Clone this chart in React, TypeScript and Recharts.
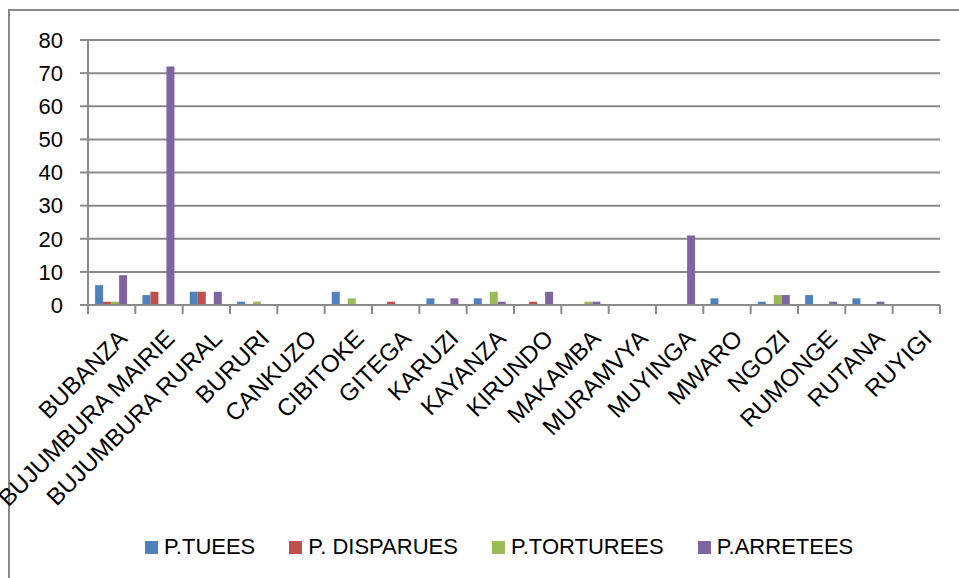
import React from 'react'
import { BarChart, Bar, XAxis, YAxis, CartesianGrid, Legend } from 'recharts'

const provinces = [
  'BUBANZA', 'BUJUMBURA MAIRIE', 'BUJUMBURA RURAL', 'BURURI', 'CANKUZO', 'CIBITOKE',
  'GITEGA', 'KARUZI', 'KAYANZA', 'KIRUNDO', 'MAKAMBA', 'MURAMVYA',
  'MUYINGA', 'MWARO', 'NGOZI', 'RUMONGE', 'RUTANA', 'RUYIGI',
]
const tuees = [6, 3, 4, 1, 0, 4, 0, 2, 2, 0, 0, 0, 0, 2, 1, 3, 2, 0]
const disparues = [1, 4, 4, 0, 0, 0, 1, 0, 0, 1, 0, 0, 0, 0, 0, 0, 0, 0]
const torturees = [1, 0, 0, 1, 0, 2, 0, 0, 4, 0, 1, 0, 0, 0, 3, 0, 0, 0]
const arretees = [9, 72, 4, 0, 0, 0, 0, 2, 1, 4, 1, 0, 21, 0, 3, 1, 1, 0]
const yTicks = [0, 10, 20, 30, 40, 50, 60, 70, 80]

const series = [
  { key: 'tuees', name: 'P.TUEES', color: '#4f81bd' },
  { key: 'disparues', name: 'P. DISPARUES', color: '#c0504d' },
  { key: 'torturees', name: 'P.TORTUREES', color: '#9bbb59' },
  { key: 'arretees', name: 'P.ARRETEES', color: '#8064a2' },
]

const data = provinces.map((p, i) => ({
  province: p,
  tuees: tuees[i],
  disparues: disparues[i],
  torturees: torturees[i],
  arretees: arretees[i],
}))

const W = 959
const H = 578
const FONT = '"Liberation Sans", Arial, sans-serif'
const AXIS = '#8a8a8a'
const PLOT_LEFT = 88
const PLOT_RIGHT = 940
const BAND = (PLOT_RIGHT - PLOT_LEFT) / provinces.length

// rotated label anchored at its end, like the spreadsheet original
function ProvinceTick(props: any) {
  const { x, y, payload, index } = props
  const left = x - BAND / 2
  const ax = x + 17
  const ay = y + 35
  return (
    <g>
      <line x1={left} y1={y} x2={left} y2={y + 9} stroke={AXIS} strokeWidth={2} />
      {index === provinces.length - 1 && (
        <line x1={x + BAND / 2} y1={y} x2={x + BAND / 2} y2={y + 9} stroke={AXIS} strokeWidth={2} />
      )}
      <text
        x={ax}
        y={ay}
        textAnchor="end"
        fontSize={24}
        fontFamily={FONT}
        fill="#000"
        transform={`rotate(-45, ${ax}, ${ay})`}
      >
        {payload.value}
      </text>
    </g>
  )
}

function LegendBox() {
  return (
    <div style={{ display: 'flex', alignItems: 'center', height: 26, fontFamily: FONT, fontSize: 22, color: '#000' }}>
      {series.map((s) => (
        <div key={s.key} style={{ display: 'flex', alignItems: 'center', marginRight: 34 }}>
          <span style={{ width: 13, height: 13, background: s.color, display: 'inline-block', marginRight: 6 }} />
          <span>{s.name}</span>
        </div>
      ))}
    </div>
  )
}

export default function App() {
  return (
    <div style={{ position: 'absolute', left: 0, top: 0, width: W, height: H, overflow: 'hidden', background: '#fff' }}>
      <div
        style={{
          position: 'absolute', left: 8, top: 9, width: 1000, height: 700,
          border: `2px solid ${AXIS}`, boxSizing: 'border-box',
        }}
      />
      <div style={{ position: 'absolute', left: 0, top: 0 }}>
        <BarChart
          width={W}
          height={H}
          data={data}
          margin={{ top: 40, right: W - PLOT_RIGHT, left: 0, bottom: 18 }}
          barCategoryGap="15%"
          barGap={0}
        >
          <CartesianGrid vertical={false} stroke={AXIS} strokeWidth={2} />
          <XAxis
            dataKey="province"
            interval={0}
            height={229}
            tickLine={false}
            tickSize={0}
            tickMargin={0}
            axisLine={{ stroke: AXIS, strokeWidth: 2 }}
            tick={<ProvinceTick />}
          />
          <YAxis
            width={PLOT_LEFT}
            domain={[0, 80]}
            ticks={yTicks}
            interval={0}
            tickSize={8}
            tickMargin={17}
            axisLine={{ stroke: AXIS, strokeWidth: 2 }}
            tickLine={{ stroke: AXIS, strokeWidth: 2 }}
            tick={{ fontSize: 22, fontFamily: FONT, fill: '#000' }}
          />
          <Legend
            verticalAlign="bottom"
            height={26}
            wrapperStyle={{ left: 145, width: 760 }}
            content={<LegendBox />}
          />
          {series.map((s) => (
            <Bar key={s.key} dataKey={s.key} name={s.name} fill={s.color} isAnimationActive={false} />
          ))}
        </BarChart>
      </div>
    </div>
  )
}
